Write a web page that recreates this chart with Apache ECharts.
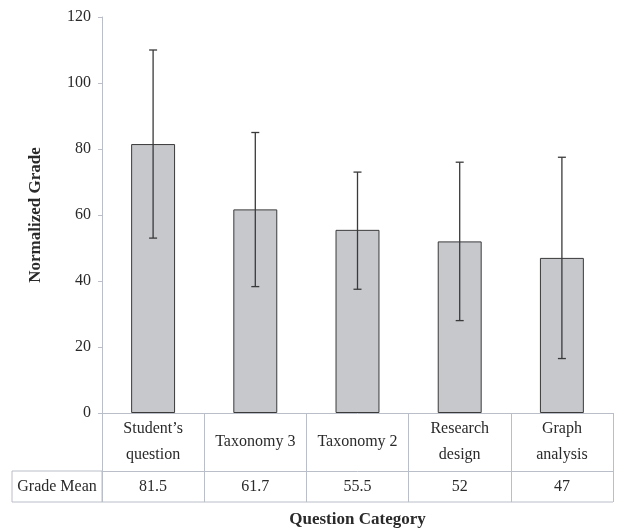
<!DOCTYPE html>
<html>
<head>
<meta charset="utf-8">
<script src="https://cdn.jsdelivr.net/npm/echarts@6/dist/echarts.min.js"></script>
<style>html,body{margin:0;padding:0;background:#fff}#c{width:618px;height:529px}</style>
</head>
<body>
<div id="c"></div>
<script>
var categories = ['Student\u2019s\nquestion', 'Taxonomy 3', 'Taxonomy 2', 'Research\ndesign', 'Graph\nanalysis'];
var means = [81.5, 61.7, 55.5, 52, 47];
var errLow = [53, 38.3, 37.5, 28, 16.5];
var errHigh = [110, 85, 73, 76, 77.5];
var yTicks = [0, 20, 40, 60, 80, 100, 120];
var rowLabel = 'Grade Mean';

var FONT = '"Liberation Serif","Times New Roman",serif';
var LINE = '#b9bec8';
var TXT = '#2a2a2a';
var ROW1 = 58, ROW2 = 31;

var chart = echarts.init(document.getElementById('c'));
var errData = means.map(function (m, i) { return [i, errLow[i], errHigh[i]]; });

chart.setOption({
  animation: false,
  grid: { left: 102, right: 5, top: 17, bottom: 116, containLabel: false, outerBoundsMode: 'none' },
  xAxis: [{
    type: 'category', data: categories, position: 'bottom',
    axisLine: { show: true, lineStyle: { color: LINE, width: 1 } },
    axisTick: { show: true, interval: 0, length: ROW1 + ROW2, lineStyle: { color: LINE } },
    axisLabel: { interval: 0, fontFamily: FONT, fontSize: 16, color: TXT, lineHeight: 26, verticalAlign: 'middle', margin: ROW1 / 2 }
  }, {
    type: 'category', data: means.map(String), position: 'bottom', offset: ROW1,
    axisLine: { show: true, lineStyle: { color: LINE, width: 1 } },
    axisTick: { show: true, interval: 0, length: ROW2, lineStyle: { color: LINE } },
    axisLabel: { interval: 0, fontFamily: FONT, fontSize: 16, color: TXT, verticalAlign: 'middle', margin: ROW2 / 2 },
    name: 'Question Category', nameLocation: 'middle', nameGap: 40,
    nameTextStyle: { fontFamily: FONT, fontSize: 17, fontWeight: 'bold', color: TXT }
  }],
  yAxis: {
    type: 'value', min: yTicks[0], max: yTicks[yTicks.length - 1], interval: yTicks[1] - yTicks[0],
    axisLine: { show: true, lineStyle: { color: LINE } },
    axisTick: { show: true, length: 4, lineStyle: { color: LINE } },
    splitLine: { show: false },
    axisLabel: { fontFamily: FONT, fontSize: 16, color: TXT, margin: 11 },
    name: 'Normalized Grade', nameLocation: 'middle', nameGap: 58, nameRotate: 90,
    nameTextStyle: { fontFamily: FONT, fontSize: 17, fontWeight: 'bold', color: TXT }
  },
  series: [{
    type: 'bar', data: means, barWidth: '43%', xAxisIndex: 0,
    itemStyle: { color: '#c6c8cc', borderColor: '#3a3a3a', borderWidth: 1 }
  }, {
    type: 'custom', data: errData, xAxisIndex: 0, z: 5,
    encode: { x: 0, y: [1, 2] },
    renderItem: function (params, api) {
      var x = api.value(0);
      var pHi = api.coord([x, api.value(2)]);
      var pLo = api.coord([x, api.value(1)]);
      var hw = 4, st = { stroke: '#3a3a3a', lineWidth: 1.3 };
      return { type: 'group', children: [
        { type: 'line', shape: { x1: pHi[0], y1: pHi[1], x2: pLo[0], y2: pLo[1] }, style: st },
        { type: 'line', shape: { x1: pHi[0] - hw, y1: pHi[1], x2: pHi[0] + hw, y2: pHi[1] }, style: st },
        { type: 'line', shape: { x1: pLo[0] - hw, y1: pLo[1], x2: pLo[0] + hw, y2: pLo[1] }, style: st }
      ] };
    }
  }]
});

var y0 = chart.convertToPixel({ yAxisIndex: 0 }, 0);
var xL = chart.convertToPixel({ xAxisIndex: 0 }, 0) - (chart.convertToPixel({ xAxisIndex: 0 }, 1) - chart.convertToPixel({ xAxisIndex: 0 }, 0)) / 2;
var xR = 618 - 5, cellL = 12;
var r2Top = y0 + ROW1, r2Bot = y0 + ROW1 + ROW2;
chart.setOption({
  graphic: [
    { type: 'rect', shape: { x: cellL, y: r2Top, width: xL - cellL, height: ROW2 }, style: { fill: 'none', stroke: LINE, lineWidth: 1 } },
    { type: 'line', shape: { x1: xL, y1: r2Bot, x2: xR, y2: r2Bot }, style: { stroke: LINE, lineWidth: 1 } },
    { type: 'text', x: (cellL + xL) / 2, y: (r2Top + r2Bot) / 2, style: { text: rowLabel, font: '16px ' + FONT, fill: TXT, align: 'center', verticalAlign: 'middle' } }
  ]
});
</script>
</body>
</html>
